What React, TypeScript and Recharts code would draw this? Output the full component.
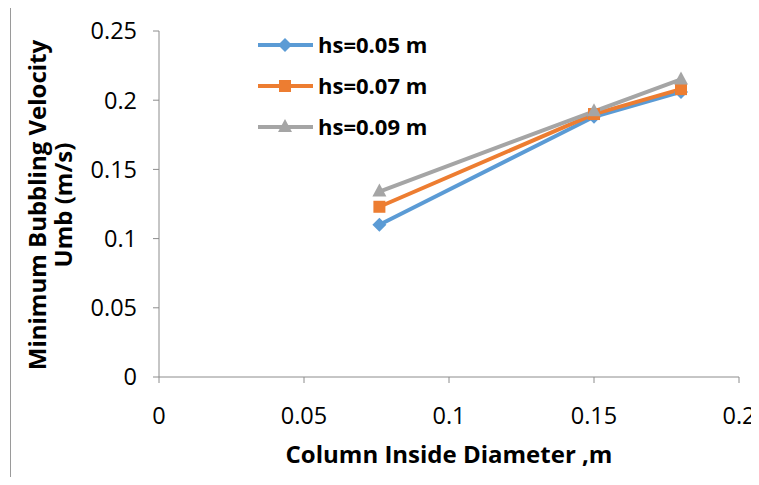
import { LineChart, Line, XAxis, YAxis, Legend } from "recharts";

// column inside diameter (m)
const diameters = [0.076, 0.15, 0.18];
// minimum bubbling velocity Umb (m/s) per static bed height
const hs005 = [0.11, 0.188, 0.206];
const hs007 = [0.123, 0.19, 0.208];
const hs009 = [0.134, 0.192, 0.215];
const xTicks = [0, 0.05, 0.1, 0.15, 0.2];
const yTicks = [0, 0.05, 0.1, 0.15, 0.2, 0.25];

const data = diameters.map((d, i) => ({
  d,
  a: hs005[i],
  b: hs007[i],
  c: hs009[i],
}));

const FONT = "'Open Sans', sans-serif";
const AXIS = "#8c8c8c";

const series = [
  { key: "a", name: "hs=0.05 m", color: "#5B9BD5", shape: "diamond" },
  { key: "b", name: "hs=0.07 m", color: "#ED7D31", shape: "square" },
  { key: "c", name: "hs=0.09 m", color: "#A5A5A5", shape: "triangle" },
];

function marker(shape: string, cx: number, cy: number, color: string, key?: string) {
  if (shape === "diamond") {
    return <path key={key} d={`M${cx},${cy - 7} L${cx + 7},${cy} L${cx},${cy + 7} L${cx - 7},${cy} Z`} fill={color} />;
  }
  if (shape === "square") {
    return <rect key={key} x={cx - 6} y={cy - 6} width={12} height={12} fill={color} />;
  }
  return <path key={key} d={`M${cx},${cy - 8} L${cx + 7},${cy + 5} L${cx - 7},${cy + 5} Z`} fill={color} />;
}

function LegendBox() {
  return (
    <svg width={200} height={110} style={{ display: "block" }}>
      {series.map((s, i) => {
        const y = 15 + i * 41;
        return (
          <g key={s.key}>
            <line x1={8} x2={63} y1={y} y2={y} stroke={s.color} strokeWidth={4} />
            {marker(s.shape, 35, y, s.color)}
            <text x={68} y={y + 8} fontFamily={FONT} fontWeight="bold" fontSize={22} fill="#000">
              {s.name}
            </text>
          </g>
        );
      })}
    </svg>
  );
}

function YTitle() {
  return (
    <g fontFamily={FONT} fontWeight="bold" fontSize={24} fill="#000" textAnchor="middle">
      <text transform="translate(46,205) rotate(-90)">Minimum Bubbling Velocity</text>
      <text transform="translate(72,205) rotate(-90)">Umb (m/s)</text>
    </g>
  );
}

export default function App() {
  return (
    <div style={{ position: "relative", width: 759, height: 485, margin: -8, overflow: "hidden", background: "#fff" }}>
      <div
        style={{
          position: "absolute",
          left: 10,
          top: 7,
          width: 800,
          height: 520,
          border: "1px solid #9a9a9a",
        }}
      />
      <LineChart
        width={759}
        height={485}
        data={data}
        margin={{ top: 31, right: 20, bottom: 0, left: 0 }}
        style={{ position: "absolute", left: 0, top: 0 }}
      >
        <XAxis
          dataKey="d"
          type="number"
          domain={[0, 0.2]}
          ticks={xTicks}
          height={108}
          stroke={AXIS}
          tickSize={6}
          tickMargin={24}
          tick={{ fill: "#000", fontSize: 23.5, fontFamily: FONT }}
          label={{
            value: "Column Inside Diameter ,m",
            position: "insideBottom",
            offset: 22,
            fill: "#000",
            fontSize: 24,
            fontWeight: "bold",
            fontFamily: FONT,
          }}
        />
        <YAxis
          type="number"
          domain={[0, 0.25]}
          ticks={yTicks}
          width={159}
          stroke={AXIS}
          tickSize={6}
          tickMargin={16}
          tick={{ fill: "#000", fontSize: 23.5, fontFamily: FONT }}
          label={{ content: () => <YTitle /> }}
        />
        <Legend
          layout="vertical"
          verticalAlign="middle"
          align="center"
          wrapperStyle={{ left: 250, top: 30, width: 200 }}
          content={() => <LegendBox />}
        />
        {series.map((s) => (
          <Line
            key={s.key}
            dataKey={s.key}
            name={s.name}
            stroke={s.color}
            strokeWidth={4}
            type="linear"
            isAnimationActive={false}
            dot={(p: any) => marker(s.shape, p.cx, p.cy, s.color, `${s.key}-${p.index}`)}
            activeDot={false}
          />
        ))}
      </LineChart>
    </div>
  );
}
